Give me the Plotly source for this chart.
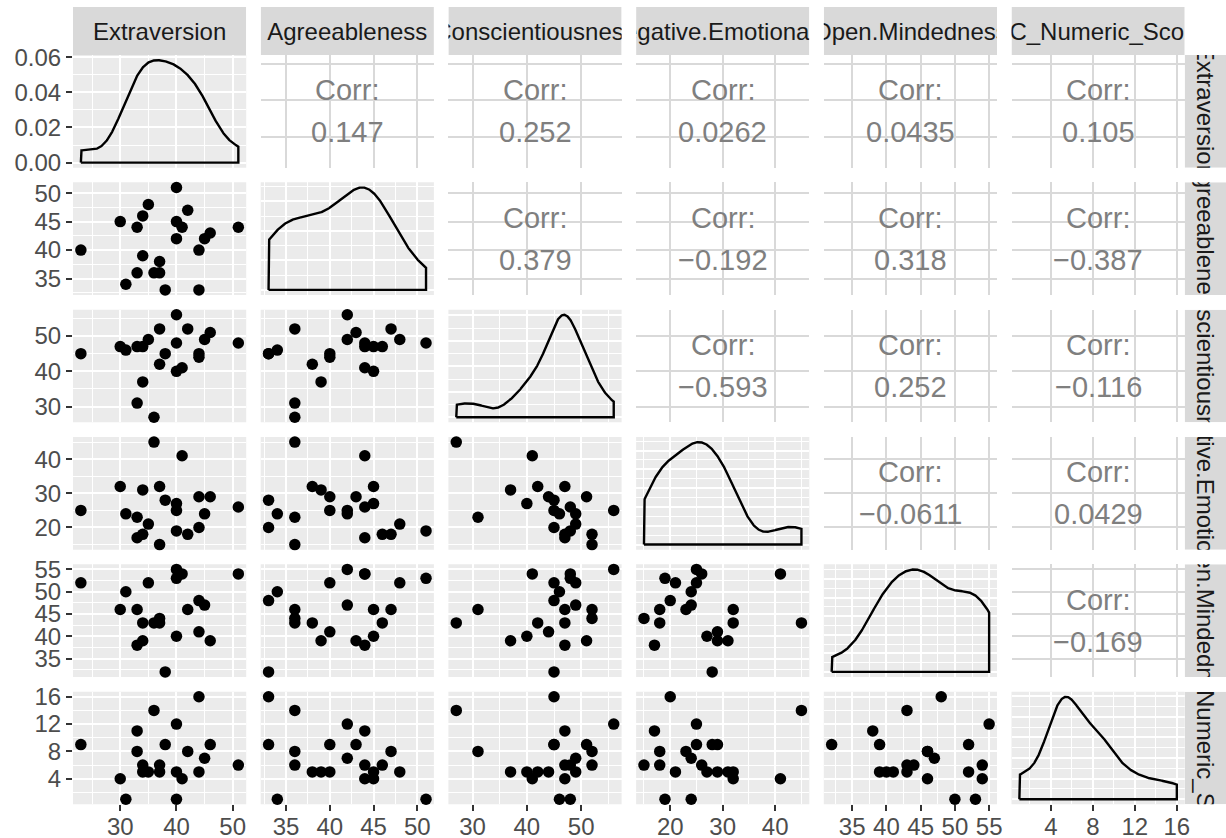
import numpy as np
import plotly.graph_objects as go

# ---- data -------------------------------------------------------------
variables = ["Extraversion", "Agreeableness", "Conscientiousness",
             "Negative.Emotionality", "Open.Mindedness", "OC_Numeric_Score"]

extraversion = [23, 30, 31, 33, 33, 34, 34, 35, 36, 37, 37, 38, 40, 40, 40, 41, 42, 44, 44, 45, 46, 51]
agreeableness = [40, 45, 34, 44, 36, 46, 39, 48, 36, 38, 36, 33, 51, 45, 42, 44, 47, 40, 33, 42, 43, 44]
conscientiousness = [45, 47, 46, 47, 31, 47, 37, 49, 27, 42, 52, 45, 48, 40, 56, 41, 52, 44, 45, 49, 51, 48]
negative_emotionality = [25, 32, 24, 17, 23, 18, 31, 21, 45, 32, 15, 28, 19, 27, 25, 41, 18, 29, 20, 24, 29, 26]
open_mindedness = [52, 46, 50, 38, 46, 43, 39, 52, 43, 43, 44, 32, 53, 40, 55, 54, 46, 41, 48, 47, 39, 54]
oc_numeric_score = [9, 4, 1, 11, 8, 6, 5, 5, 14, 5, 6, 9, 1, 5, 12, 4, 8, 5, 16, 7, 9, 6]

columns = [extraversion, agreeableness, conscientiousness,
           negative_emotionality, open_mindedness, oc_numeric_score]

# printed correlation labels, upper triangle, row by row
corr_labels = [
    ["0.147", "0.252", "0.0262", "0.0435", "0.105"],
    ["0.379", "\u22120.192", "0.318", "\u22120.387"],
    ["\u22120.593", "0.252", "\u22120.116"],
    ["\u22120.0611", "0.0429"],
    ["\u22120.169"],
]

# major / minor break spacing for each variable's axis
major_step = [10, 5, 10, 10, 5, 4]
minor_step = [5, 2.5, 5, 5, 2.5, 2]

# ---- geometry (pixels) -----------------------------------------------
W, H = 1226, 838
PW, PH = 173.2, 112.7
col_left = [73 + i * 187.7 for i in range(6)]
row_top = [55 + i * 127.33 for i in range(6)]
STRIP_TOP = 7

FONT = "Liberation Sans, Arial, sans-serif"
PANEL_BG = "#EBEBEB"


def xdom(c):
    return [col_left[c] / W, (col_left[c] + PW) / W]


def ydom(r):
    return [1 - (row_top[r] + PH) / H, 1 - row_top[r] / H]


def var_range(v):
    lo, hi = min(v), max(v)
    pad = 0.05 * (hi - lo)
    return [lo - pad, hi + pad]


def kde(v):
    v = np.asarray(v, float)
    n = len(v)
    sd = v.std(ddof=1)
    q75, q25 = np.percentile(v, [75, 25])
    bw = 0.9 * min(sd, (q75 - q25) / 1.34) * n ** -0.2
    xs = np.linspace(v.min(), v.max(), 512)
    d = np.exp(-0.5 * ((xs[:, None] - v[None, :]) / bw) ** 2).sum(1) / (n * bw * np.sqrt(2 * np.pi))
    return xs, d


def density_step(top):
    best, best_score = None, None
    for e in range(-5, 1):
        for rank, q in enumerate((1, 5, 2, 2.5)):
            s = q * 10.0 ** e
            n = int(np.floor(top / s + 1e-9)) + 1
            score = (abs(n - 5), rank)
            if n >= 2 and (best_score is None or score < best_score):
                best, best_score = s, score
    return best


fig = go.Figure()
layout = dict(
    width=W, height=H,
    margin=dict(l=0, r=0, t=0, b=0, pad=0, autoexpand=False),
    paper_bgcolor="white", plot_bgcolor="rgba(0,0,0,0)",
    showlegend=False, font=dict(family=FONT),
)
shapes, annotations = [], []

tick_font = dict(family=FONT, size=24, color="#4D4D4D")


def axis_key(prefix, k):
    return prefix + "axis" + ("" if k == 1 else str(k))


def ref(prefix, k):
    return prefix + ("" if k == 1 else str(k))


for r in range(6):
    for c in range(6):
        k = r * 6 + c + 1
        xv = columns[c]
        yv = columns[r]
        upper = c > r
        diag = c == r
        grid_col = "#D9D9D9" if upper else "white"

        xa = dict(domain=xdom(c), anchor=ref("y", k), range=var_range(xv),
                  tick0=0, dtick=major_step[c], showgrid=True, gridcolor=grid_col,
                  gridwidth=2, zeroline=False, showline=False, fixedrange=True,
                  automargin=False, ticklabelstandoff=-5,
                  showticklabels=(r == 5), ticks="outside" if r == 5 else "",
                  ticklen=6, tickwidth=2, tickcolor="#333333", tickfont=tick_font)
        ya = dict(domain=ydom(r), anchor=ref("x", k), tick0=0,
                  showgrid=True, gridcolor=grid_col, gridwidth=2,
                  zeroline=False, showline=False, fixedrange=True,
                  automargin=False,
                  showticklabels=(c == 0), ticks="outside" if c == 0 else "",
                  ticklen=6, tickwidth=2, tickcolor="#333333", tickfont=tick_font)
        if not upper:
            xa["minor"] = dict(tick0=0, dtick=minor_step[c], showgrid=True,
                               gridcolor="white", gridwidth=1)

        if diag:
            xs, d = kde(xv)
            top = d.max()
            step = density_step(top * 1.05)
            ya.update(range=[-0.05 * top, 1.05 * top], dtick=step, tickformat=".2f",
                      minor=dict(tick0=0, dtick=step / 2, showgrid=True,
                                 gridcolor="white", gridwidth=1))
            px = np.concatenate([[xs[0]], xs, [xs[-1], xs[0]]])
            py = np.concatenate([[0], d, [0, 0]])
            fig.add_trace(go.Scatter(x=px, y=py, mode="lines",
                                     line=dict(color="black", width=2.4),
                                     xaxis=ref("x", k), yaxis=ref("y", k),
                                     hoverinfo="skip"))
        else:
            ya.update(range=var_range(yv), dtick=major_step[r])
            if not upper:
                ya["minor"] = dict(tick0=0, dtick=minor_step[r], showgrid=True,
                                   gridcolor="white", gridwidth=1)
                fig.add_trace(go.Scatter(x=xv, y=yv, mode="markers",
                                         marker=dict(color="black", size=11.5),
                                         xaxis=ref("x", k), yaxis=ref("y", k),
                                         cliponaxis=False, hoverinfo="skip"))
            else:
                # empty trace so the correlation panel gets its own grid
                fig.add_trace(go.Scatter(x=[None], y=[None], mode="markers",
                                         xaxis=ref("x", k), yaxis=ref("y", k),
                                         hoverinfo="skip"))

        layout[axis_key("x", k)] = xa
        layout[axis_key("y", k)] = ya

        if not upper:
            shapes.append(dict(type="rect", xref="paper", yref="paper", layer="below",
                               x0=xdom(c)[0], x1=xdom(c)[1], y0=ydom(r)[0], y1=ydom(r)[1],
                               fillcolor=PANEL_BG, line=dict(width=0)))
        else:
            label = corr_labels[r][c - r - 1]
            cx = (col_left[c] + PW / 2) / W
            cy = row_top[r] + PH / 2
            for txt, dy in (("Corr:", -21), (label, 21)):
                annotations.append(dict(text=txt, x=cx, y=1 - (cy + dy) / H,
                                        xref="paper", yref="paper", showarrow=False,
                                        xanchor="center", yanchor="middle",
                                        font=dict(family=FONT, size=29, color="#7F7F7F")))

# ---- facet strips (clipped to their boxes) -----------------------------
strip_font = dict(family=FONT, size=24, color="#1A1A1A")
k = 37
for i, name in enumerate(variables):
    # top strip over column i
    layout[axis_key("x", k)] = dict(domain=xdom(i), anchor=ref("y", k), range=[0, 1],
                                    visible=False, fixedrange=True)
    layout[axis_key("y", k)] = dict(domain=[1 - 55 / H, 1 - STRIP_TOP / H], anchor=ref("x", k),
                                    range=[0, 1], visible=False, fixedrange=True)
    fig.add_trace(go.Bar(x=[0.5], y=[1], width=[1], base=0, marker=dict(color="#D9D9D9", line=dict(width=0)),
                         text=[name], textposition="inside", insidetextanchor="middle",
                         textangle=0, constraintext="none", insidetextfont=strip_font,
                         cliponaxis=True, xaxis=ref("x", k), yaxis=ref("y", k), hoverinfo="skip"))
    k += 1
    # right strip beside row i
    layout[axis_key("x", k)] = dict(domain=[(col_left[5] + PW) / W, 1], anchor=ref("y", k),
                                    range=[0, 1], visible=False, fixedrange=True)
    layout[axis_key("y", k)] = dict(domain=ydom(i), anchor=ref("x", k), range=[0, 1],
                                    visible=False, fixedrange=True)
    fig.add_trace(go.Bar(x=[0.5], y=[1], width=[1], base=0, marker=dict(color="#D9D9D9", line=dict(width=0)),
                         text=[name], textposition="inside", insidetextanchor="middle",
                         textangle=90, constraintext="none", insidetextfont=strip_font,
                         cliponaxis=True, xaxis=ref("x", k), yaxis=ref("y", k), hoverinfo="skip"))
    k += 1

layout["shapes"] = shapes
layout["annotations"] = annotations
fig.update_layout(**layout)
fig.write_html("out.html")
